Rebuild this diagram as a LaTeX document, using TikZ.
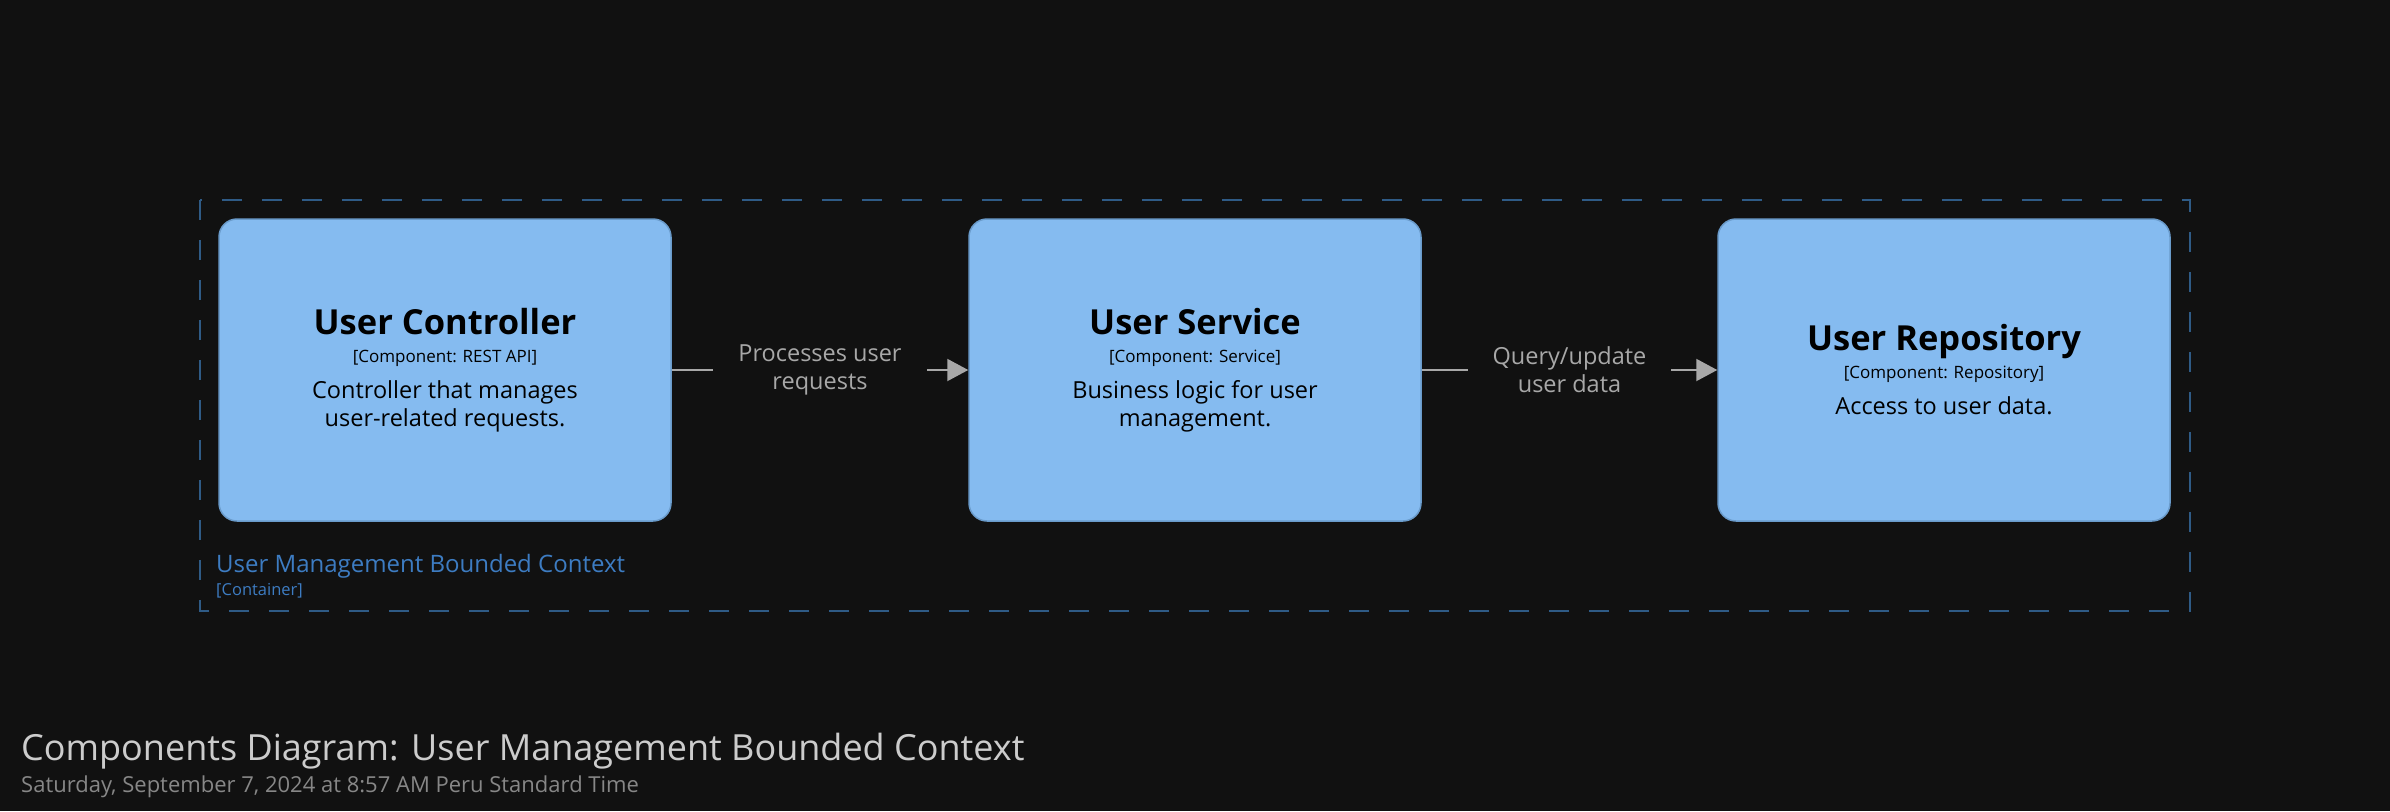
\documentclass[tikz,border=0pt]{standalone}
\usepackage{fontspec}
\setmainfont{Open Sans}
\usetikzlibrary{arrows.meta}

\definecolor{canvas}{HTML}{111111}
\definecolor{compfill}{HTML}{85BBF0}
\definecolor{compline}{HTML}{6A9BCB}
\definecolor{bounddash}{HTML}{2F5B86}
\definecolor{boundtext}{HTML}{3D7CC2}
\definecolor{relgray}{HTML}{A8A8A8}

\tikzset{
  component/.style={draw=compline,line width=1.5pt,fill=compfill,rounded corners=18pt,
    minimum width=452pt,minimum height=302pt,align=center,text=black,
    font=\fontsize{23.5}{28}\selectfont},
  rel/.style={draw=relgray,line width=2pt,-{Triangle[length=21pt,width=22pt]}},
  relabel/.style={fill=canvas,text=relgray,align=center,inner xsep=25pt,inner ysep=4pt,
    font=\fontsize{23.5}{28}\selectfont},
}

\begin{document}
\begin{tikzpicture}[x=1pt,y=-1pt]
  \fill[canvas] (0,0) rectangle (2390,811);
  \useasboundingbox (0,0) rectangle (2390,811);

  % bounded context
  \draw[bounddash,line width=2pt,dash pattern=on 20pt off 20pt] (200,200) rectangle (2190,611);
  \node[anchor=base west,inner sep=0pt,text=boundtext,font=\fontsize{24}{28}\selectfont] (boundary) at (216,572) {User Management Bounded Context};
  \node[anchor=base west,inner sep=0pt,text=boundtext,font=\fontsize{16.5}{20}\selectfont] (boundarytype) at (216,595) {[Container]};

  % components
  \node[component] (controller) at (445,370)
    {{\bfseries\fontsize{34.5}{28}\selectfont User Controller}\\{\fontsize{17}{28}\selectfont [Component: REST API]}\\[8pt]Controller that manages\\user-related requests.};
  \node[component] (service) at (1195,370)
    {{\bfseries\fontsize{34.5}{28}\selectfont User Service}\\{\fontsize{17}{28}\selectfont [Component: Service]}\\[8pt]Business logic for user\\management.};
  \node[component] (repository) at (1944,370)
    {{\bfseries\fontsize{34.5}{28}\selectfont User Repository}\\{\fontsize{17}{28}\selectfont [Component: Repository]}\\[8pt]Access to user data.};

  % relationships
  \draw[rel] (controller) -- node[relabel] (rel1) {Processes user\\requests} (service);
  \draw[rel] (service) -- node[relabel] (rel2) {Query/update\\user data} (repository);

  % diagram key
  \node[anchor=base west,inner sep=0pt,text=black!20,font=\fontsize{36}{40}\selectfont] (title) at (21,760) {Components Diagram: User Management Bounded Context};
  \node[anchor=base west,inner sep=0pt,text=black!47,font=\fontsize{22}{26}\selectfont] (date) at (21,792) {Saturday, September 7, 2024 at 8:57 AM Peru Standard Time};
\end{tikzpicture}
\end{document}
